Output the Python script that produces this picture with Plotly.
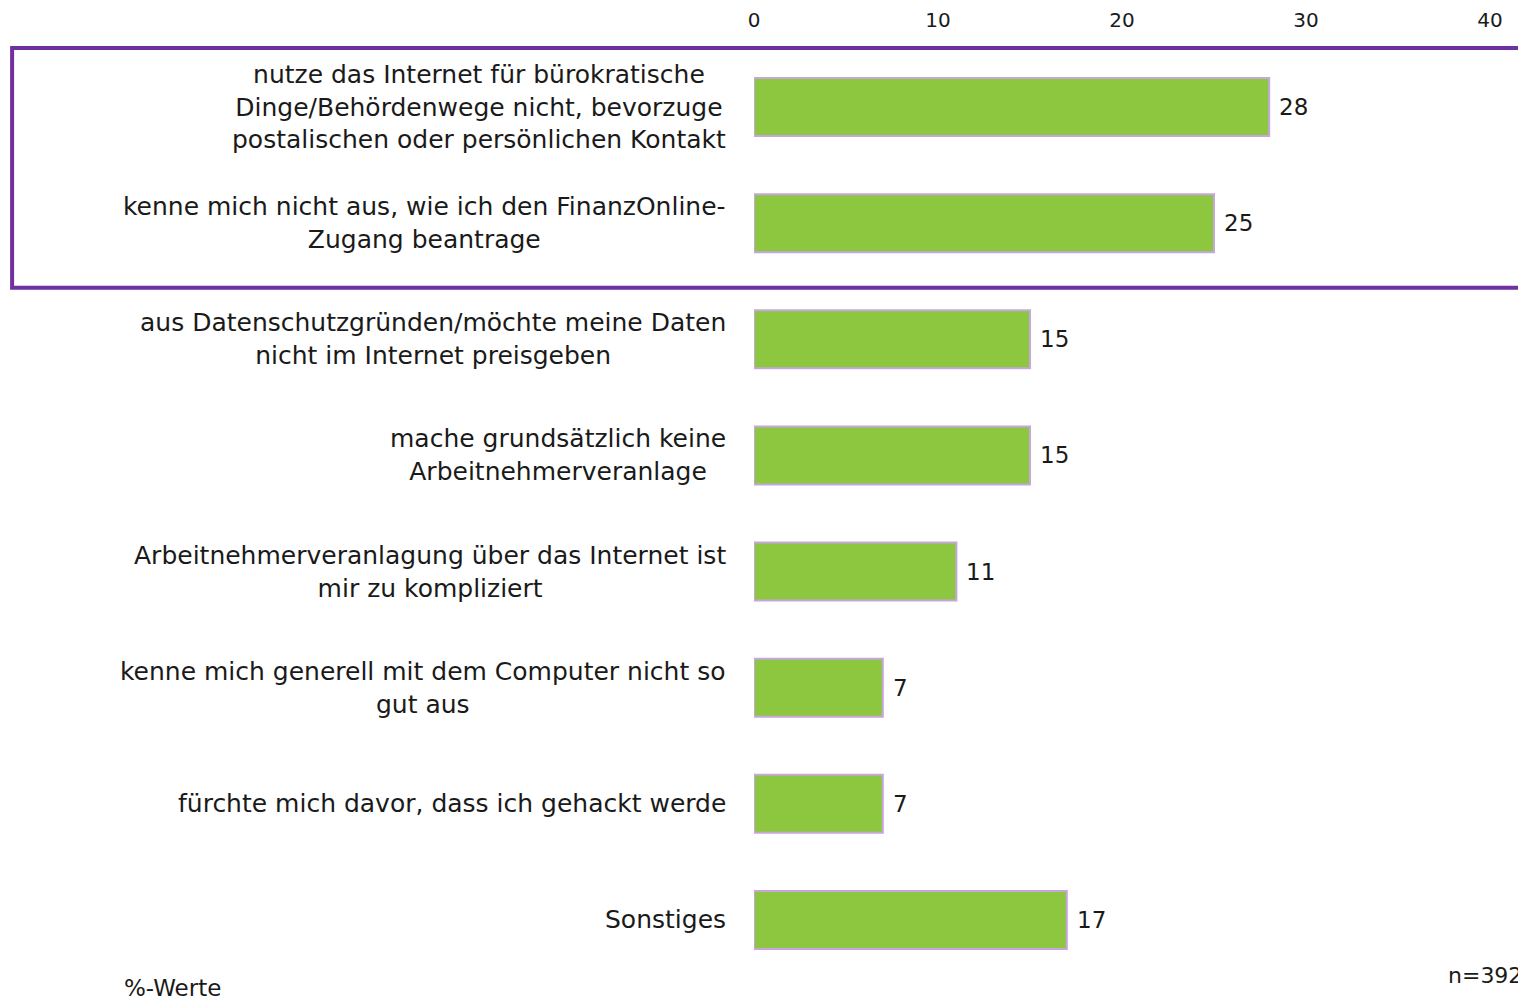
import plotly.graph_objects as go

categories = [
    "nutze das Internet für bürokratische<br>Dinge/Behördenwege nicht, bevorzuge<br>postalischen oder persönlichen Kontakt",
    "kenne mich nicht aus, wie ich den FinanzOnline-<br>Zugang beantrage",
    "aus Datenschutzgründen/möchte meine Daten<br>nicht im Internet preisgeben",
    "mache grundsätzlich keine<br>Arbeitnehmerveranlage",
    "Arbeitnehmerveranlagung über das Internet ist<br>mir zu kompliziert",
    "kenne mich generell mit dem Computer nicht so<br>gut aus",
    "fürchte mich davor, dass ich gehackt werde",
    "Sonstiges",
]
values = [28, 25, 15, 15, 11, 7, 7, 17]
tick_vals = [0, 10, 20, 30, 40]

FONT = "Century Gothic, DejaVu Sans, sans-serif"
GREEN = "#8DC63F"
PURPLE = "#7030A0"
TXT = "#1a1a1a"

ypos = list(range(len(categories)))

fig = go.Figure(go.Bar(
    x=values,
    y=ypos,
    orientation="h",
    width=0.5,
    marker=dict(color=GREEN, line=dict(color="#C7A6DE", width=2)),
    hoverinfo="x",
))

# category labels: lines centered, block right-anchored next to the axis
for i, c in enumerate(categories):
    fig.add_annotation(
        x=0, y=i, xref="x", yref="y", text=c, showarrow=False,
        xanchor="right", yanchor="middle", align="center", xshift=-26,
        font=dict(size=25, color=TXT, family=FONT),
    )

# value labels
for i, v in enumerate(values):
    fig.add_annotation(
        x=v, y=i, xref="x", yref="y", text=str(v), showarrow=False,
        xanchor="left", yanchor="middle", xshift=8,
        font=dict(size=23, color=TXT, family=FONT),
    )

# highlight box around the first two items
fig.add_shape(type="rect", xref="paper", yref="paper",
              x0=-1.008, x1=1.06, y0=0.743, y1=1.001,
              line=dict(color=PURPLE, width=4))

fig.add_annotation(x=-0.859, y=-0.011, xref="paper", yref="paper", text="%-Werte",
                   showarrow=False, xanchor="left", yanchor="middle",
                   font=dict(size=23, color=TXT, family=FONT))
fig.add_annotation(x=1.046, y=0.003, xref="paper", yref="paper", text="n=392",
                   showarrow=False, xanchor="right", yanchor="middle",
                   font=dict(size=22, color=TXT, family=FONT))

fig.update_layout(
    width=1518, height=993,
    margin=dict(l=746, r=36, t=41, b=23),
    paper_bgcolor="white", plot_bgcolor="white",
    showlegend=False,
    xaxis=dict(side="top", range=[0, 40], tickvals=tick_vals, showgrid=False,
               zeroline=False, showline=False, ticks="", automargin=False,
               ticklabelstandoff=17,
               tickfont=dict(size=20, color=TXT, family=FONT)),
    yaxis=dict(range=[7.5, -0.5], showticklabels=False, showgrid=False,
               zeroline=False, showline=False, automargin=False),
)

fig.write_html("out.html")
